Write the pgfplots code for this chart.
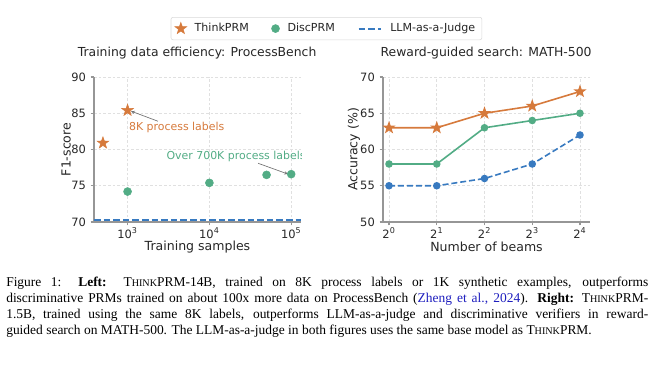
\documentclass[border=0pt]{standalone}
\usepackage{fontspec}
\setmainfont{Liberation Serif}
\newfontfamily\chartfont{DejaVu Sans}
\usepackage{pgfplots}
\pgfplotsset{compat=1.18}
\usetikzlibrary{arrows.meta}
\definecolor{cThink}{RGB}{214,122,60}
\definecolor{cDisc}{RGB}{82,172,133}
\definecolor{cLLM}{RGB}{56,122,192}
\definecolor{cSpine}{RGB}{150,150,150}
\definecolor{cText}{RGB}{38,38,38}
\definecolor{cLink}{RGB}{30,30,190}

\pgfdeclareplotmark{fstar}{%
  \pgfpathmoveto{\pgfpointpolar{90}{\pgfplotmarksize}}%
  \pgfpathlineto{\pgfpointpolar{126}{0.4\pgfplotmarksize}}%
  \pgfpathlineto{\pgfpointpolar{162}{\pgfplotmarksize}}%
  \pgfpathlineto{\pgfpointpolar{198}{0.4\pgfplotmarksize}}%
  \pgfpathlineto{\pgfpointpolar{234}{\pgfplotmarksize}}%
  \pgfpathlineto{\pgfpointpolar{270}{0.4\pgfplotmarksize}}%
  \pgfpathlineto{\pgfpointpolar{306}{\pgfplotmarksize}}%
  \pgfpathlineto{\pgfpointpolar{342}{0.4\pgfplotmarksize}}%
  \pgfpathlineto{\pgfpointpolar{18}{\pgfplotmarksize}}%
  \pgfpathlineto{\pgfpointpolar{54}{0.4\pgfplotmarksize}}%
  \pgfpathclose
  \pgfusepathqfillstroke
}

\newcommand\TP{T{\fontsize{7.6}{12}\selectfont HINK}PRM}

\pgfplotsset{
  myaxis/.style={
    scale only axis, width=155.25pt, height=108.75pt,
    axis x line=bottom, axis y line=left,
    axis line style={cSpine, line width=1.1pt, -},
    tick style={cSpine, line width=0.8pt},
    tick align=outside, major tick length=2.6pt,
    minor tick num=0,
    grid=major, grid style={black!12, line width=0.4pt, dash pattern=on 2pt off 1.5pt},
    /pgf/number format/assume math mode=true,
    tick label style={font=\chartfont\fontsize{8.6}{10}\selectfont, text=cText},
    xticklabel style={yshift=2pt},
    label style={font=\chartfont\fontsize{9.4}{11}\selectfont, text=cText},
    title style={font=\chartfont\fontsize{9.3}{11}\selectfont, text=cText, at={(axis description cs:0.498,1.112)}, anchor=center},
    xlabel style={at={(axis description cs:0.5,-0.172)}, anchor=center},
  }
}

\begin{document}
\begin{tikzpicture}
\useasboundingbox (0,0) rectangle (492pt,276.75pt);

\begin{axis}[myaxis, at={(70.5pt,110.25pt)}, anchor=south west,
  xmode=log, log basis x=10, xmin=389, xmax=131800, ymin=70, ymax=90,
  ytick={70,75,80,85,90},
  xtick={1000,10000,100000},
  xticklabels={10\textsuperscript{3},10\textsuperscript{4},10\textsuperscript{5}},
  title={Training data efficiency: ProcessBench},
  xlabel={Training samples}, ylabel={F1-score},
  ylabel style={at={(axis description cs:-0.135,0.5)}, anchor=center},
  legend columns=3,
  legend style={at={(1.123,1.334)}, anchor=center, draw=black!15, rounded corners=1.5pt,
    font=\chartfont\fontsize{8.3}{10}\selectfont, text=cText,
    inner ysep=2.5pt, inner xsep=3pt,
    /tikz/every odd column/.append style={column sep=4pt},
    /tikz/every even column/.append style={column sep=15pt}},
]
\addplot[only marks, mark=fstar, mark size=4.6pt, color=cThink] coordinates {(500,80.9) (1000,85.4)};
\addlegendentry{ThinkPRM}
\addplot[only marks, mark=*, mark size=3pt, color=cDisc] coordinates {(1000,74.2) (10000,75.4) (50000,76.5) (100000,76.6)};
\addlegendentry{DiscPRM}
\addplot[cLLM, line width=1.5pt, dash pattern=on 5pt off 2.2pt] coordinates {(389,70.3) (131800,70.3)};
\addlegendentry{LLM-as-a-Judge}
\node[anchor=west, text=cThink, font=\chartfont\fontsize{8.2}{10}\selectfont, inner sep=0] at (axis cs:1037,83) {8K process labels};
\draw[-{Stealth[length=3pt,width=2.4pt]}, black!55, line width=0.5pt] (axis cs:2350,83.9) -- (axis cs:1098,85.3);
\node[anchor=center, text=cDisc, font=\chartfont\fontsize{8.2}{10}\selectfont, inner sep=0] at (axis cs:21200,79.1) {Over 700K process labels};
\draw[-{Stealth[length=3pt,width=2.4pt]}, black!55, line width=0.5pt] (axis cs:39400,78.1) -- (axis cs:91900,76.6);
\end{axis}

\begin{axis}[myaxis, at={(287.25pt,110.25pt)}, anchor=south west,
  xmin=-0.126, xmax=4.21, ymin=50, ymax=70,
  xtick={0,1,2,3,4},
  xticklabels={2\textsuperscript{0},2\textsuperscript{1},2\textsuperscript{2},2\textsuperscript{3},2\textsuperscript{4}},
  ytick={50,55,60,65,70},
  title={Reward-guided search: MATH-500},
  xlabel={Number of beams}, ylabel={Accuracy (\%)},
  ylabel style={at={(axis description cs:-0.141,0.5)}, anchor=center},
]
\addplot[cThink, line width=1.2pt, mark=fstar, mark size=3.4pt] coordinates {(0,63)(1,63)(2,65)(3,66)(4,68)};
\addplot[cDisc, line width=1.2pt, mark=*, mark size=2.2pt] coordinates {(0,58)(1,58)(2,63)(3,64)(4,65)};
\addplot[cLLM, line width=1.2pt, dash pattern=on 4.5pt off 2.2pt, mark=*, mark size=2.2pt, mark options={solid}] coordinates {(0,55)(1,55)(2,56)(3,58)(4,62)};
\end{axis}

\node[anchor=base west, inner sep=0] at (4.5pt,62.25pt) {\begin{minipage}[t]{481.5pt}\fontsize{10.1}{12}\selectfont
Figure 1: \textbf{Left:} \TP-14B, trained on 8K process labels or 1K synthetic examples, outperforms\linebreak
discriminative PRMs trained on about 100x more data on ProcessBench ({\color{cLink}Zheng et al., 2024}). \textbf{Right:} \TP-\linebreak
1.5B, trained using the same 8K labels, outperforms LLM-as-a-judge and discriminative verifiers in reward-\linebreak
guided search on MATH-500. The LLM-as-a-judge in both figures uses the same base model as \TP.
\end{minipage}};
\end{tikzpicture}
\end{document}
